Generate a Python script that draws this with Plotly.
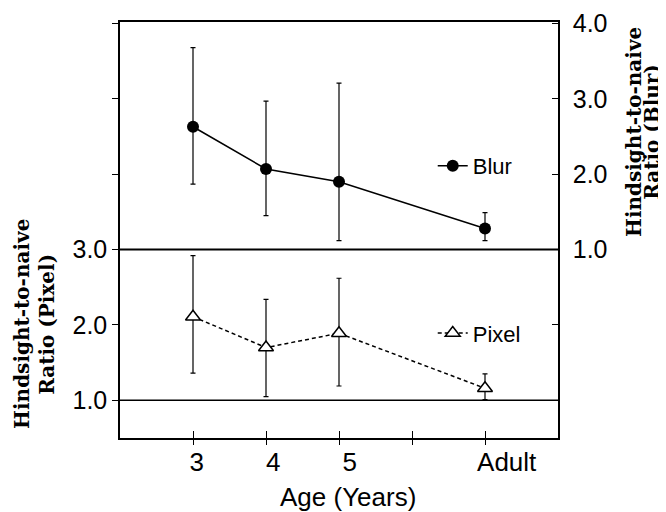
import plotly.graph_objects as go

# ---- data ----
age_categories = ["3", "4", "5", " ", "Adult"]
age_tick_labels = ["3", "4", "5", "", "Adult"]
ages = ["3", "4", "5", "Adult"]

blur_mean = [2.63, 2.07, 1.90, 1.28]
blur_high = [3.68, 2.97, 3.21, 1.49]
blur_low = [1.87, 1.45, 1.12, 1.12]

pixel_mean = [2.11, 1.70, 1.89, 1.16]
pixel_high = [2.92, 2.34, 2.62, 1.35]
pixel_low = [1.36, 1.05, 1.19, 1.01]

left_tickvals = [1, 2, 3, 4, 5, 6]
left_ticktext = ["1.0", "2.0", "3.0", "", "", ""]
right_tickvals = [-1, 0, 1, 2, 3, 4]
right_ticktext = ["", "", "1.0", "2.0", "3.0", "4.0"]

# style: leading non-breaking spaces nudge the x labels right as in the original
label_pad = [1, 2, 3, 0, 6]
x_ticktext = ["\u00a0" * p + t for p, t in zip(label_pad, age_tick_labels)]

SANS = "Liberation Sans, Arial, Helvetica, sans-serif"
SERIF = "DejaVu Serif, serif"

fig = go.Figure()

fig.add_trace(go.Scatter(
    x=ages, y=pixel_mean, name="Pixel", xaxis="x", yaxis="y",
    mode="lines+markers",
    line=dict(color="black", width=1.5, dash="4px,3px"),
    marker=dict(symbol="triangle-up", size=13, color="white",
                line=dict(color="black", width=1.5)),
    error_y=dict(type="data", symmetric=False,
                 array=[h - m for h, m in zip(pixel_high, pixel_mean)],
                 arrayminus=[m - l for m, l in zip(pixel_mean, pixel_low)],
                 color="black", thickness=1.2, width=2.5),
    legend="legend2",
))

fig.add_trace(go.Scatter(
    x=ages, y=blur_mean, name="Blur", xaxis="x2", yaxis="y2",
    mode="lines+markers",
    line=dict(color="black", width=1.5),
    marker=dict(symbol="circle", size=12, color="black"),
    error_y=dict(type="data", symmetric=False,
                 array=[h - m for h, m in zip(blur_high, blur_mean)],
                 arrayminus=[m - l for m, l in zip(blur_mean, blur_low)],
                 color="black", thickness=1.2, width=2.5),
    legend="legend",
))

fig.update_layout(
    width=658, height=504,
    margin=dict(l=112, r=108, t=14, b=74, autoexpand=False),
    paper_bgcolor="white", plot_bgcolor="white",
    font=dict(family=SANS, size=24, color="black"),
    xaxis=dict(
        type="category", categoryorder="array", categoryarray=age_categories,
        range=[-1, 5], showgrid=False, zeroline=False, automargin=False,
        showline=True, linecolor="black", linewidth=1.5, mirror=True,
        tickmode="array", tickvals=age_categories, ticktext=x_ticktext,
        ticks="outside", ticklen=5, tickwidth=1.2, tickcolor="black",
        ticklabelstandoff=-5,
        tickfont=dict(family=SANS, size=26),
    ),
    xaxis2=dict(
        type="category", categoryorder="array", categoryarray=age_categories,
        range=[-1, 5], overlaying="x", anchor="y2", side="bottom",
        showgrid=False, zeroline=False, showline=False, automargin=False,
        ticks="inside", ticklen=7, tickwidth=1.2, tickcolor="black",
        showticklabels=False,
    ),
    yaxis=dict(
        range=[0.5, 6.02], showgrid=False, zeroline=False, automargin=False,
        showline=True, linecolor="black", linewidth=1.5,
        tickvals=left_tickvals, ticktext=left_ticktext,
        ticks="outside", ticklen=6, tickwidth=1.2, tickcolor="black",
        tickfont=dict(family=SANS, size=25),
    ),
    yaxis2=dict(
        range=[-1.5, 4.02], overlaying="y", side="right", anchor="x2",
        showgrid=False, zeroline=False, automargin=False,
        showline=True, linecolor="black", linewidth=1.5,
        tickvals=right_tickvals, ticktext=right_ticktext,
        ticks="inside", ticklen=6, tickwidth=1.2, tickcolor="black",
        ticklabelstandoff=8,
        tickfont=dict(family=SANS, size=25),
    ),
    legend=dict(x=0.714, y=0.654, xanchor="left", yanchor="middle",
                bgcolor="rgba(0,0,0,0)", font=dict(family=SANS, size=22),
                itemwidth=30),
    legend2=dict(x=0.714, y=0.252, xanchor="left", yanchor="middle",
                 bgcolor="rgba(0,0,0,0)", font=dict(family=SANS, size=22),
                 itemwidth=30),
    showlegend=True,
)

# panel separator (Blur 1.0 / Pixel 3.0) and Pixel 1.0 reference line
fig.add_shape(type="line", xref="paper", yref="y2", x0=0, x1=1, y0=1, y1=1,
              line=dict(color="black", width=2))
fig.add_shape(type="line", xref="paper", yref="y", x0=0, x1=1, y0=1, y1=1,
              line=dict(color="black", width=1.5))

# axis titles
fig.add_annotation(text="Age (Years)", xref="paper", yref="paper",
                   x=0.52, y=-0.142, xanchor="center", yanchor="middle",
                   showarrow=False, font=dict(family=SANS, size=26))

title_lines = [
    ("<b>Hindsight-to-naive</b>", -0.224, 0.274),
    ("<b>Ratio (Pixel)</b>", -0.167, 0.274),
    ("<b>Hindsight-to-naive</b>", 1.173, 0.735),
    ("<b>Ratio (Blur)</b>", 1.216, 0.735),
]
for txt, ax_x, ax_y in title_lines:
    fig.add_annotation(text=txt, xref="paper", yref="paper", x=ax_x, y=ax_y,
                       xanchor="center", yanchor="middle", textangle=-90,
                       showarrow=False, font=dict(family=SERIF, size=20))

fig.write_html("out.html")
